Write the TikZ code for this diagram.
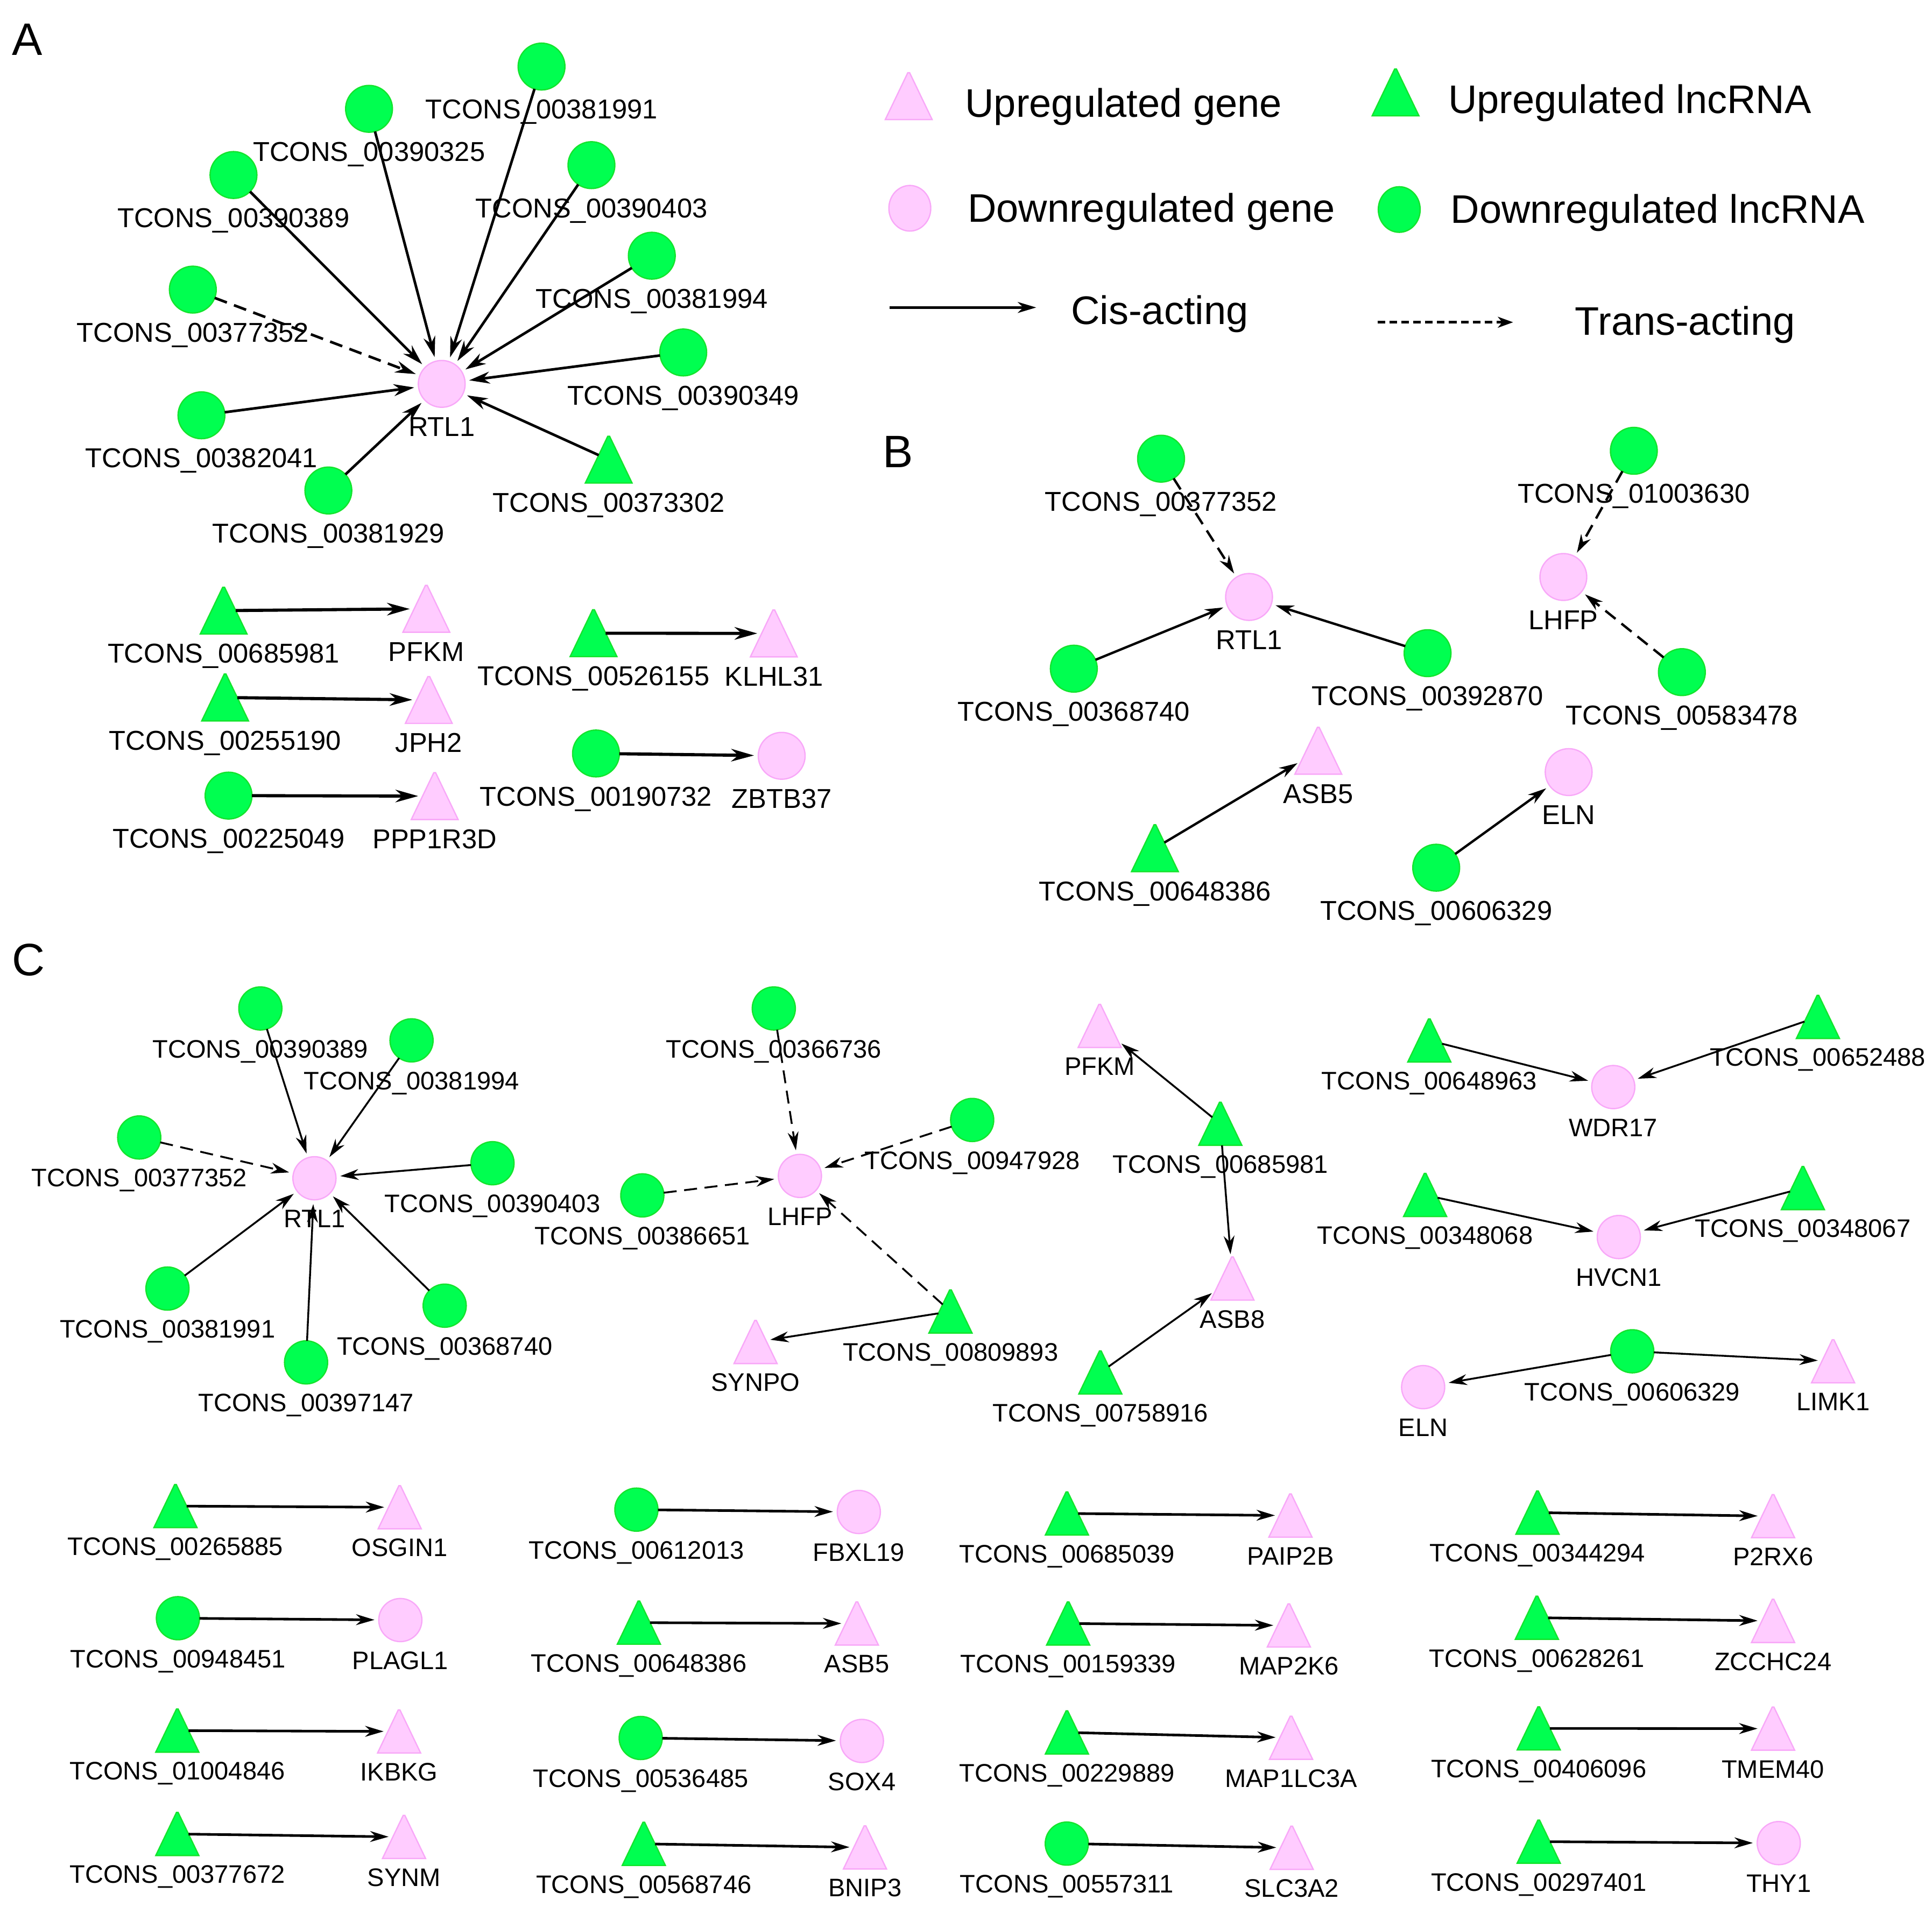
\documentclass[tikz,border=0pt]{standalone}
\usepackage{fontspec}
\setmainfont{Liberation Sans}
\usetikzlibrary{shapes.geometric,arrows.meta}
\definecolor{gfill}{RGB}{0,255,80}
\definecolor{gdraw}{RGB}{20,228,45}
\definecolor{pfill}{RGB}{255,204,255}
\definecolor{pdraw}{RGB}{248,168,248}
\def\nsz{0.76cm}
\def\lofs{42.5}
\def\lfont{\fontsize{12.6}{14}\selectfont}
\newcommand\nd[5]{\node[#1] (#2) at (#3,#4) {};\node[lbl] (#2l) at (#3,#4+\lofs) {#5};}
\begin{document}
\begin{tikzpicture}[x=0.02cm,y=-0.02cm,
 shp/.style={inner sep=0pt,outer sep=0pt,line width=0.6pt,minimum width=\nsz,minimum height=\nsz},
 gc/.style={shp,ellipse,fill=gfill,draw=gdraw},
 pc/.style={shp,ellipse,fill=pfill,draw=pdraw},
 tri/.style={shp,trapezium,trapezium angle=63.6,trapezium stretches=true,inner xsep=0.02pt,inner ysep=0.5pt},
 gt/.style={tri,fill=gfill,draw=gdraw},
 pt/.style={tri,fill=pfill,draw=pdraw},
 lbl/.style={inner sep=0pt,anchor=base,font=\lfont},
 leg/.style={inner sep=0pt,anchor=base west,font=\fontsize{18.4}{20}\selectfont},
 letter/.style={inner sep=0pt,font=\fontsize{21}{24}\selectfont},
 arr/.style={line width=1.2pt,-{Stealth[length=9.5pt,width=5.5pt,inset=3pt]},shorten >=2pt},
 arrC/.style={line width=0.85pt,-{Stealth[length=8.5pt,width=5pt,inset=2.7pt]},shorten >=2pt},
 dsh/.style={dash pattern=on 6pt off 3.5pt}
]
\path[use as bounding box] (0,0) rectangle (1568,1553);
% ---------------- letters
\node[letter] (LA) at (22,32) {A};
\node[letter] (LB) at (729,366.5) {B};
\node[letter] (LC) at (23,779) {C};
% ---------------- legend
\node[pt] (lg1) at (737.5,78) {};
\node[leg] (lt1) at (783,95) {Upregulated gene};
\node[gt] (lg2) at (1132.6,75) {};
\node[leg] (lt2) at (1175,92) {Upregulated lncRNA};
\node[pc,minimum width=0.68cm,minimum height=0.74cm] (lg3) at (738.4,169) {};
\node[leg] (lt3) at (785,180) {Downregulated gene};
\node[gc,minimum width=0.68cm,minimum height=0.74cm] (lg4) at (1135.6,170) {};
\node[leg] (lt4) at (1177,181) {Downregulated lncRNA};
\coordinate (lc1) at (722,249.5);
\coordinate (lc2) at (841,249.5);
\draw[line width=1.3pt,-{Stealth[length=8.5pt,width=5pt,inset=2.5pt]}] (lc1) -- (lc2);
\node[leg] (lt5) at (869,263) {Cis-acting};
\coordinate (ld1) at (1118,261.5);
\coordinate (ld2) at (1228,261.5);
\draw[line width=1.2pt,-{Stealth[length=7pt,width=5pt,inset=2pt]},dash pattern=on 3.5pt off 2pt] (ld1) -- (ld2);
\node[leg] (lt6) at (1278,272) {Trans-acting};
% ---------------- Panel A network
\nd{pc}{aRTL}{358.5}{311.5}{RTL1}
\nd{gc}{a1}{439.5}{54}{TCONS\_00381991}
\nd{gc}{a2}{299.5}{88.3}{TCONS\_00390325}
\nd{gc}{a3}{189.5}{142}{TCONS\_00390389}
\nd{gc}{a4}{480}{134}{TCONS\_00390403}
\nd{gc}{a5}{529}{207.5}{TCONS\_00381994}
\nd{gc}{a6}{156.5}{235}{TCONS\_00377352}
\nd{gc}{a7}{554.5}{286}{TCONS\_00390349}
\nd{gc}{a8}{163.5}{337}{TCONS\_00382041}
\nd{gc}{a9}{266.5}{398}{TCONS\_00381929}
\nd{gt}{a10}{494}{373}{TCONS\_00373302}
\foreach \s in {a1,a2,a3,a4,a5,a7,a8,a9,a10} \draw[arr] (\s) -- (aRTL);
\draw[arr,dsh] (a6) -- (aRTL);
% ---------------- Panel A pairs
\nd{gt}{b1}{181.5}{495.5}{TCONS\_00685981}
\nd{pt}{b1t}{346}{494}{PFKM}
\nd{gt}{b2}{182.7}{566}{TCONS\_00255190}
\nd{pt}{b2t}{348}{568}{JPH2}
\nd{gc}{b3}{185.5}{645.6}{TCONS\_00225049}
\nd{pt}{b3t}{352.8}{646}{PPP1R3D}
\nd{gt}{b4}{481.7}{513.8}{TCONS\_00526155}
\nd{pt}{b4t}{628}{514}{KLHL31}
\nd{gc}{b5}{483.7}{611.4}{TCONS\_00190732}
\nd{pc}{b5t}{634.4}{613.3}{ZBTB37}
\foreach \s in {b1,b2,b3,b4,b5} \draw[arr,line width=1.45pt,-{Stealth[length=10.5pt,width=5.8pt,inset=3.3pt]}] (\s) -- (\s t);
% ---------------- Panel B
\nd{gc}{c1}{942.3}{372.2}{TCONS\_00377352}
\nd{pc}{cRTL}{1013.7}{484.4}{RTL1}
\nd{gc}{c2}{871.5}{542.6}{TCONS\_00368740}
\nd{gc}{c3}{1158.6}{530}{TCONS\_00392870}
\nd{gc}{c4}{1326}{365.8}{TCONS\_01003630}
\nd{pc}{cLHFP}{1268.8}{468.2}{LHFP}
\nd{gc}{c5}{1365}{545.4}{TCONS\_00583478}
\nd{pt}{cASB5}{1069.9}{609.2}{ASB5}
\nd{gt}{c6}{937.3}{688.3}{TCONS\_00648386}
\nd{pc}{cELN}{1273.1}{626.5}{ELN}
\nd{gc}{c7}{1165.6}{704.1}{TCONS\_00606329}
\draw[arrC,line width=1.1pt,dsh] (c1) -- (cRTL);
\draw[arrC,line width=1.1pt] (c2) -- (cRTL);
\draw[arrC,line width=1.1pt] (c3) -- (cRTL);
\draw[arrC,line width=1.1pt,dsh] (c4) -- (cLHFP);
\draw[arrC,line width=1.1pt,dsh] (c5) -- (cLHFP);
\draw[arrC,line width=1.1pt] (c6) -- (cASB5);
\draw[arrC,line width=1.1pt] (c7) -- (cELN);
% ---------------- Panel C
\def\nsz{0.70cm}
\def\lofs{40}
\def\lfont{\fontsize{11.7}{13}\selectfont}
\nd{pc}{dRTL}{255.2}{956.1}{RTL1}
\nd{gc}{d1}{211.3}{818.3}{TCONS\_00390389}
\nd{gc}{d2}{334}{844.2}{TCONS\_00381994}
\nd{gc}{d3}{113}{923}{TCONS\_00377352}
\nd{gc}{d4}{399.7}{943.9}{TCONS\_00390403}
\nd{gc}{d5}{135.9}{1045.6}{TCONS\_00381991}
\nd{gc}{d6}{360.9}{1059.5}{TCONS\_00368740}
\nd{gc}{d7}{248.4}{1105.5}{TCONS\_00397147}
\foreach \s in {d1,d2,d4,d5,d6,d7} \draw[arrC] (\s) -- (dRTL);
\draw[arrC,dsh] (d3) -- (dRTL);
\nd{gc}{d8}{628}{818.3}{TCONS\_00366736}
\nd{pc}{dLHFP}{649.2}{954.2}{LHFP}
\nd{gc}{d9}{789}{908.8}{TCONS\_00947928}
\nd{gc}{d10}{521.3}{970}{TCONS\_00386651}
\nd{gt}{d11}{771.4}{1064.2}{TCONS\_00809893}
\nd{pt}{dSYNPO}{613.2}{1089}{SYNPO}
\foreach \s in {d8,d9,d10,d11} \draw[arrC,dsh] (\s) -- (dLHFP);
\draw[arrC] (d11) -- (dSYNPO);
\nd{pt}{dPFKM}{892.5}{832.5}{PFKM}
\nd{gt}{d12}{990.4}{911.9}{TCONS\_00685981}
\nd{pt}{dASB8}{1000.2}{1037.5}{ASB8}
\nd{gt}{d13}{893}{1113.7}{TCONS\_00758916}
\draw[arrC] (d12) -- (dPFKM);
\draw[arrC] (d12) -- (dASB8);
\draw[arrC] (d13) -- (dASB8);
\nd{gt}{d14}{1160}{844.3}{TCONS\_00648963}
\nd{gt}{d15}{1475.4}{825.2}{TCONS\_00652488}
\nd{pc}{dWDR}{1309.3}{882.1}{WDR17}
\nd{gt}{d16}{1156.6}{969.7}{TCONS\_00348068}
\nd{gt}{d17}{1463.2}{964.1}{TCONS\_00348067}
\nd{pc}{dHVCN}{1313.8}{1003.8}{HVCN1}
\nd{pc}{dELN}{1155}{1125.6}{ELN}
\nd{gc}{d18}{1324.7}{1096.5}{TCONS\_00606329}
\nd{pt}{dLIMK}{1487.7}{1104.6}{LIMK1}
\draw[arrC] (d14) -- (dWDR);
\draw[arrC] (d15) -- (dWDR);
\draw[arrC] (d16) -- (dHVCN);
\draw[arrC] (d17) -- (dHVCN);
\draw[arrC] (d18) -- (dELN);
\draw[arrC] (d18) -- (dLIMK);
% ---------------- Panel C pairs
\nd{gt}{e1}{142.4}{1222.1}{TCONS\_00265885}
\nd{pt}{e1t}{324.4}{1223.1}{OSGIN1}
\nd{gc}{e2}{144.4}{1313.1}{TCONS\_00948451}
\nd{pc}{e2t}{324.9}{1314.6}{PLAGL1}
\nd{gt}{e3}{143.9}{1404.3}{TCONS\_01004846}
\nd{pt}{e3t}{323.9}{1405}{IKBKG}
\nd{gt}{e4}{143.9}{1488.2}{TCONS\_00377672}
\nd{pt}{e4t}{327.9}{1490.6}{SYNM}
\nd{gc}{f1}{516.5}{1225}{TCONS\_00612013}
\nd{pc}{f1t}{697}{1226.9}{FBXL19}
\nd{gt}{f2}{518.5}{1316.7}{TCONS\_00648386}
\nd{pt}{f2t}{695.4}{1317.4}{ASB5}
\nd{gc}{f3}{520}{1410.3}{TCONS\_00536485}
\nd{pc}{f3t}{699.5}{1412.7}{SOX4}
\nd{gt}{f4}{522.5}{1496.2}{TCONS\_00568746}
\nd{pt}{f4t}{702}{1499.1}{BNIP3}
\nd{gt}{g1}{865.9}{1228.1}{TCONS\_00685039}
\nd{pt}{g1t}{1047.3}{1229.8}{PAIP2B}
\nd{gt}{g2}{866.9}{1317.4}{TCONS\_00159339}
\nd{pt}{g2t}{1046}{1319}{MAP2K6}
\nd{gt}{g3}{865.9}{1405.8}{TCONS\_00229889}
\nd{pt}{g3t}{1047.8}{1410.1}{MAP1LC3A}
\nd{gc}{g4}{865.8}{1496}{TCONS\_00557311}
\nd{pt}{g4t}{1048.3}{1499.4}{SLC3A2}
\nd{gt}{h1}{1247.8}{1227.4}{TCONS\_00344294}
\nd{pt}{h1t}{1439}{1230.3}{P2RX6}
\nd{gt}{h2}{1247.3}{1312.7}{TCONS\_00628261}
\nd{pt}{h2t}{1439}{1315.3}{ZCCHC24}
\nd{gt}{h3}{1248.8}{1402.5}{TCONS\_00406096}
\nd{pt}{h3t}{1439}{1402.7}{TMEM40}
\nd{gt}{h4}{1248.8}{1494.4}{TCONS\_00297401}
\nd{pc}{h4t}{1443.6}{1495.6}{THY1}
\foreach \s in {e1,e2,e3,e4,f1,f2,f3,f4,g1,g2,g3,g4,h1,h2,h3,h4} \draw[arrC,line width=1.2pt] (\s) -- (\s t);
\end{tikzpicture}
\end{document}
